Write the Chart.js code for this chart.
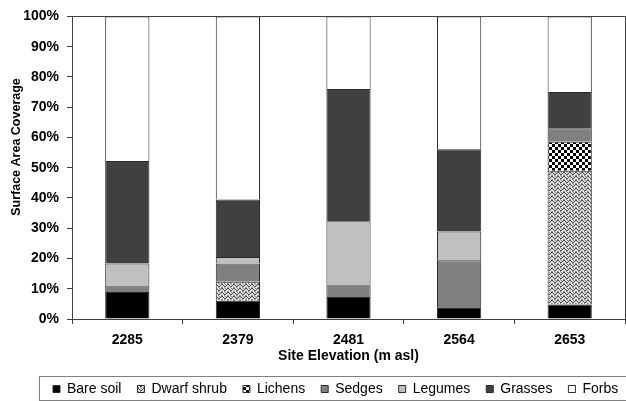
<!DOCTYPE html>
<html>
<head>
<meta charset="utf-8">
<script src="https://cdn.jsdelivr.net/npm/chart.js@4.4.1/dist/chart.umd.min.js"></script>
<style>
  html, body { margin: 0; padding: 0; background: #fff; }
  #wrap { width: 626px; height: 401px; }
</style>
</head>
<body>
<div id="wrap"><canvas id="chart" width="626" height="401"></canvas></div>
<script>
// Site elevations (m asl) and cover of each surface class, in percent
const elevations = ['2285', '2379', '2481', '2564', '2653'];
const bareSoil   = [8.9, 6.0, 7.3, 3.9, 4.8];
const dwarfShrub = [0, 6.3, 0, 0, 44.2];
const lichens    = [0, 0, 0, 0, 9.6];
const sedges     = [2.2, 6.0, 4.1, 15.5, 4.4];
const legumes    = [7.2, 2.2, 20.9, 9.5, 0];
const grasses    = [33.9, 19.0, 43.7, 27.2, 12.0];
const forbs      = [47.8, 60.5, 24.0, 43.9, 25.0];

const classNames = ['Bare soil', 'Dwarf shrub', 'Lichens', 'Sedges', 'Legumes', 'Grasses', 'Forbs'];
const yTitle = 'Surface Area Coverage';
const xTitle = 'Site Elevation (m asl)';

const FONT = '"Liberation Sans", Arial, sans-serif';
Chart.defaults.font.family = FONT;
Chart.defaults.color = '#000';

// Hatch fills
function zigzagFill() {
  const c = document.createElement('canvas');
  c.width = 6; c.height = 4;
  const g = c.getContext('2d');
  g.fillStyle = '#d8d8d8';
  g.fillRect(0, 0, 6, 4);
  g.fillStyle = '#4a4a4a';
  [[0, 0], [1, 1], [2, 2], [3, 2], [4, 1], [5, 0]].forEach(([x, y]) => g.fillRect(x, y, 1, 1));
  g.fillStyle = '#8c8c8c';
  [[0, 3], [3, 0], [5, 3], [2, 3]].forEach(([x, y]) => g.fillRect(x, y, 1, 1));
  g.fillStyle = '#ffffff';
  [[1, 3], [4, 3]].forEach(([x, y]) => g.fillRect(x, y, 1, 1));
  return g.createPattern(c, 'repeat');
}
function checkerFill() {
  const c = document.createElement('canvas');
  c.width = 6; c.height = 6;
  const g = c.getContext('2d');
  g.fillStyle = '#fff';
  g.fillRect(0, 0, 6, 6);
  g.fillStyle = '#000';
  g.fillRect(0, 0, 3, 3);
  g.fillRect(3, 3, 3, 3);
  return g.createPattern(c, 'repeat');
}

const seriesValues = [bareSoil, dwarfShrub, lichens, sedges, legumes, grasses, forbs];
const fills = ['#000000', zigzagFill(), checkerFill(), '#808080', '#c0c0c0', '#404040', '#ffffff'];

const datasets = classNames.map((name, i) => ({
  label: name,
  data: seriesValues[i],
  backgroundColor: fills[i],
  borderColor: '#2a2a2a',
  borderWidth: 1,
  categoryPercentage: 1.0,
  barPercentage: 0.4
}));

// Legend placement, plot frame, legend outline and vertical axis title
const decorations = {
  id: 'decorations',
  afterLayout(chart) {
    const lg = chart.legend;
    lg.left = 37;
    lg.right = 760;
    lg.top += 5;
  },
  afterDraw(chart) {
    const { ctx, chartArea: a } = chart;
    ctx.save();
    ctx.lineWidth = 1;
    ctx.strokeStyle = '#404040';
    const top = Math.round(a.top) + 0.5;
    const right = Math.round(a.right) + 0.5;
    ctx.beginPath();
    ctx.moveTo(Math.round(a.left), top);
    ctx.lineTo(right, top);
    ctx.lineTo(right, Math.round(a.bottom));
    ctx.stroke();

    ctx.strokeStyle = '#808080';
    ctx.strokeRect(39.5, 376.5, 600, 24);

    ctx.translate(17, 147);
    ctx.rotate(-Math.PI / 2);
    ctx.font = 'bold 12.5px ' + FONT;
    ctx.fillStyle = '#000';
    ctx.textAlign = 'center';
    ctx.textBaseline = 'middle';
    ctx.fillText(yTitle, 0, 0);
    ctx.restore();
  }
};

new Chart(document.getElementById('chart'), {
  type: 'bar',
  data: { labels: elevations, datasets },
  plugins: [decorations],
  options: {
    responsive: false,
    animation: false,
    devicePixelRatio: 1,
    layout: { padding: { top: 13.6, right: 1, left: 0, bottom: 0 } },
    plugins: {
      tooltip: { enabled: false },
      legend: {
        position: 'bottom',
        align: 'start',
        labels: {
          boxWidth: 7,
          boxHeight: 7,
          padding: 16,
          font: { size: 14, family: FONT },
          color: '#000'
        }
      }
    },
    scales: {
      x: {
        stacked: true,
        afterFit(scale) { scale.height = 42; },
        grid: { offset: true, drawOnChartArea: false, tickLength: 5, color: '#404040' },
        border: { color: '#404040' },
        ticks: { padding: 8, font: { size: 14, weight: 'bold' }, color: '#000' },
        title: {
          display: true,
          text: xTitle,
          font: { size: 14, weight: 'bold' },
          color: '#000',
          padding: { top: 0, bottom: -4 }
        }
      },
      y: {
        stacked: true,
        min: 0,
        max: 100,
        afterFit(scale) { scale.width = 72; },
        grid: { drawOnChartArea: false, tickLength: 5, color: '#404040' },
        border: { color: '#404040' },
        ticks: {
          stepSize: 10,
          padding: 8,
          font: { size: 14, weight: 'bold' },
          color: '#000',
          callback: v => v + '%'
        }
      }
    }
  }
});
</script>
</body>
</html>
